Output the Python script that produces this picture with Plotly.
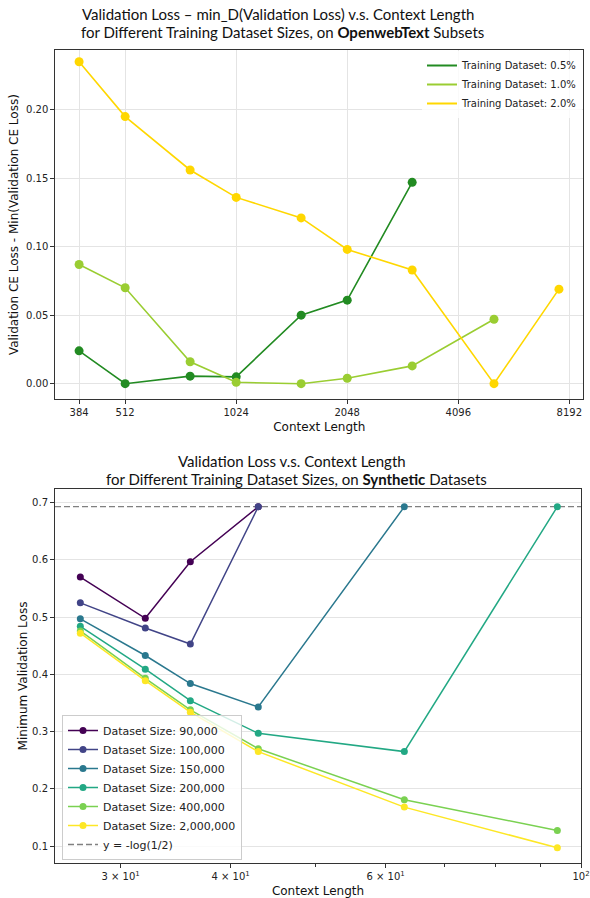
import math
import plotly.graph_objects as go

W, H = 590, 898

# ---- OpenWebText subsets: loss above per-dataset minimum ----
owt_ctx = [384, 512, 768, 1024, 1536, 2048, 3072, 5120, 7680]
owt_05 = [0.024, 0.000, 0.0055, 0.005, 0.050, 0.061, 0.147]
owt_10 = [0.087, 0.070, 0.016, 0.001, 0.000, 0.004, 0.013, 0.047]
owt_20 = [0.235, 0.195, 0.156, 0.136, 0.121, 0.098, 0.083, 0.000, 0.069]
owt_series = [owt_05, owt_10, owt_20]
owt_names = ["Training Dataset: 0.5%", "Training Dataset: 1.0%", "Training Dataset: 2.0%"]
owt_colors = ["#228B22", "#9ACD32", "#FFD700"]
owt_xticks = [384, 512, 1024, 2048, 4096, 8192]
owt_yticks = [0.00, 0.05, 0.10, 0.15, 0.20]

# ---- Synthetic datasets: minimum validation loss ----
syn_ctx = [27, 32, 36, 43, 63, 94]
syn_90k = [0.570, 0.498, 0.597, 0.693]
syn_100k = [0.525, 0.481, 0.453, 0.693]
syn_150k = [0.497, 0.433, 0.384, 0.343, 0.693]
syn_200k = [0.484, 0.409, 0.354, 0.297, 0.265, 0.693]
syn_400k = [0.476, 0.393, 0.338, 0.270, 0.181, 0.127]
syn_2m = [0.472, 0.389, 0.334, 0.265, 0.168, 0.097]
syn_series = [syn_90k, syn_100k, syn_150k, syn_200k, syn_400k, syn_2m]
syn_names = ["Dataset Size: 90,000", "Dataset Size: 100,000", "Dataset Size: 150,000",
             "Dataset Size: 200,000", "Dataset Size: 400,000", "Dataset Size: 2,000,000"]
syn_colors = ["#440154", "#414487", "#2a788e", "#22a884", "#7ad151", "#fde725"]
syn_xticks = [30, 40, 60, 100]
syn_xticktext = ["3 × 10<sup>1</sup>", "4 × 10<sup>1</sup>", "6 × 10<sup>1</sup>", "10<sup>2</sup>"]
syn_xminor = [50, 70, 80, 90]
syn_yticks = [0.1, 0.2, 0.3, 0.4, 0.5, 0.6, 0.7]
chance_loss = -math.log(1 / 2)
chance_name = "y = -log(1/2)"


def px_x(p):
    return p / W


def px_y(p):
    return 1 - p / H


TICK_FONT = dict(family="DejaVu Sans", size=10, color="#222")
LABEL_FONT = dict(family="DejaVu Sans", size=12, color="#111")
TITLE_FONT = dict(family="Lato", size=15, color="#111")
GRID = "#e4e4e4"
SPINE = "#333"
DASH_COLOR = "#808080"

fig = go.Figure()

# top panel: lines with markers, legend shows plain lines
for ys, name, color in zip(owt_series, owt_names, owt_colors):
    fig.add_trace(go.Scatter(
        x=owt_ctx[:len(ys)], y=ys, mode="lines+markers", name=name,
        line=dict(color=color, width=1.6), marker=dict(color=color, size=9),
        xaxis="x", yaxis="y", showlegend=False))
for name, color in zip(owt_names, owt_colors):
    fig.add_trace(go.Scatter(
        x=[None], y=[None], mode="lines", name=name,
        line=dict(color=color, width=2), xaxis="x", yaxis="y", legend="legend"))

# bottom panel
for ys, name, color in zip(syn_series, syn_names, syn_colors):
    fig.add_trace(go.Scatter(
        x=syn_ctx[:len(ys)], y=ys, mode="lines+markers", name=name,
        line=dict(color=color, width=1.5), marker=dict(color=color, size=7),
        xaxis="x2", yaxis="y2", legend="legend2"))

# legend entry for the chance-level reference line
fig.add_trace(go.Scatter(
    x=[None], y=[None], mode="lines", name=chance_name,
    line=dict(color=DASH_COLOR, width=1.3, dash="6px,3px"),
    xaxis="x2", yaxis="y2", legend="legend2"))

fig.add_shape(type="line", xref="x2 domain", x0=0, x1=1, yref="y2",
              y0=chance_loss, y1=chance_loss, layer="below",
              line=dict(color=DASH_COLOR, width=1.3, dash="6px,3px"))

axis_common = dict(showline=True, mirror=True, linecolor=SPINE, linewidth=1,
                   ticks="outside", ticklen=4, tickcolor=SPINE, tickfont=TICK_FONT,
                   zeroline=False, automargin=False)

fig.update_layout(
    width=W, height=H, autosize=False,
    margin=dict(l=0, r=0, t=0, b=0, autoexpand=False),
    paper_bgcolor="white", plot_bgcolor="white",
    xaxis=dict(type="log", range=[math.log10(331), math.log10(8941)],
               domain=[px_x(55.3), px_x(583.3)], anchor="y",
               tickvals=owt_xticks, ticktext=[str(v) for v in owt_xticks],
               showgrid=True, gridcolor=GRID,
               title=dict(text="Context Length", font=LABEL_FONT, standoff=5),
               **axis_common),
    yaxis=dict(range=[-0.0114, 0.2436], domain=[px_y(399.3), px_y(50)], anchor="x",
               tickvals=owt_yticks, tickformat=".2f", showgrid=True, gridcolor=GRID,
               title=dict(text="Validation CE Loss - Min(Validation CE Loss)",
                          font=LABEL_FONT, standoff=4),
               **axis_common),
    xaxis2=dict(type="log", range=[math.log10(25.27), 2.0],
                domain=[px_x(55), px_x(581)], anchor="y2",
                tickvals=syn_xticks, ticktext=syn_xticktext, showgrid=False,
                minor=dict(tickvals=syn_xminor, ticks="outside", ticklen=2.5,
                           tickcolor=SPINE, showgrid=False),
                title=dict(text="Context Length", font=LABEL_FONT, standoff=6),
                **axis_common),
    yaxis2=dict(range=[0.0703, 0.724], domain=[px_y(863), px_y(489)], anchor="x2",
                tickvals=syn_yticks, tickformat=".1f", showgrid=True, gridcolor=GRID,
                title=dict(text="Minimum Validation Loss", font=LABEL_FONT, standoff=1),
                **axis_common),
    legend=dict(x=px_x(582), y=px_y(51), xanchor="right", yanchor="top",
                bgcolor="rgba(255,255,255,0.8)", borderwidth=0,
                font=dict(family="DejaVu Sans", size=10, color="#222")),
    legend2=dict(x=px_x(62), y=px_y(860), xanchor="left", yanchor="bottom",
                 bgcolor="rgba(255,255,255,0.8)", bordercolor="#cccccc", borderwidth=1,
                 font=dict(family="DejaVu Sans", size=11, color="#222")),
    annotations=[
        dict(text="Validation Loss – min_D(Validation Loss) v.s. Context Length",
             x=px_x(278), y=px_y(14), xref="paper", yref="paper",
             xanchor="center", yanchor="middle", showarrow=False, font=TITLE_FONT),
        dict(text="for Different Training Dataset Sizes, on <b>OpenwebText</b> Subsets",
             x=px_x(282), y=px_y(31.5), xref="paper", yref="paper",
             xanchor="center", yanchor="middle", showarrow=False, font=TITLE_FONT),
        dict(text="Validation Loss v.s. Context Length",
             x=px_x(292), y=px_y(461), xref="paper", yref="paper",
             xanchor="center", yanchor="middle", showarrow=False, font=TITLE_FONT),
        dict(text="for Different Training Dataset Sizes, on <b>Synthetic</b> Datasets",
             x=px_x(296), y=px_y(478.5), xref="paper", yref="paper",
             xanchor="center", yanchor="middle", showarrow=False, font=TITLE_FONT),
    ],
)

fig.write_html("out.html")
